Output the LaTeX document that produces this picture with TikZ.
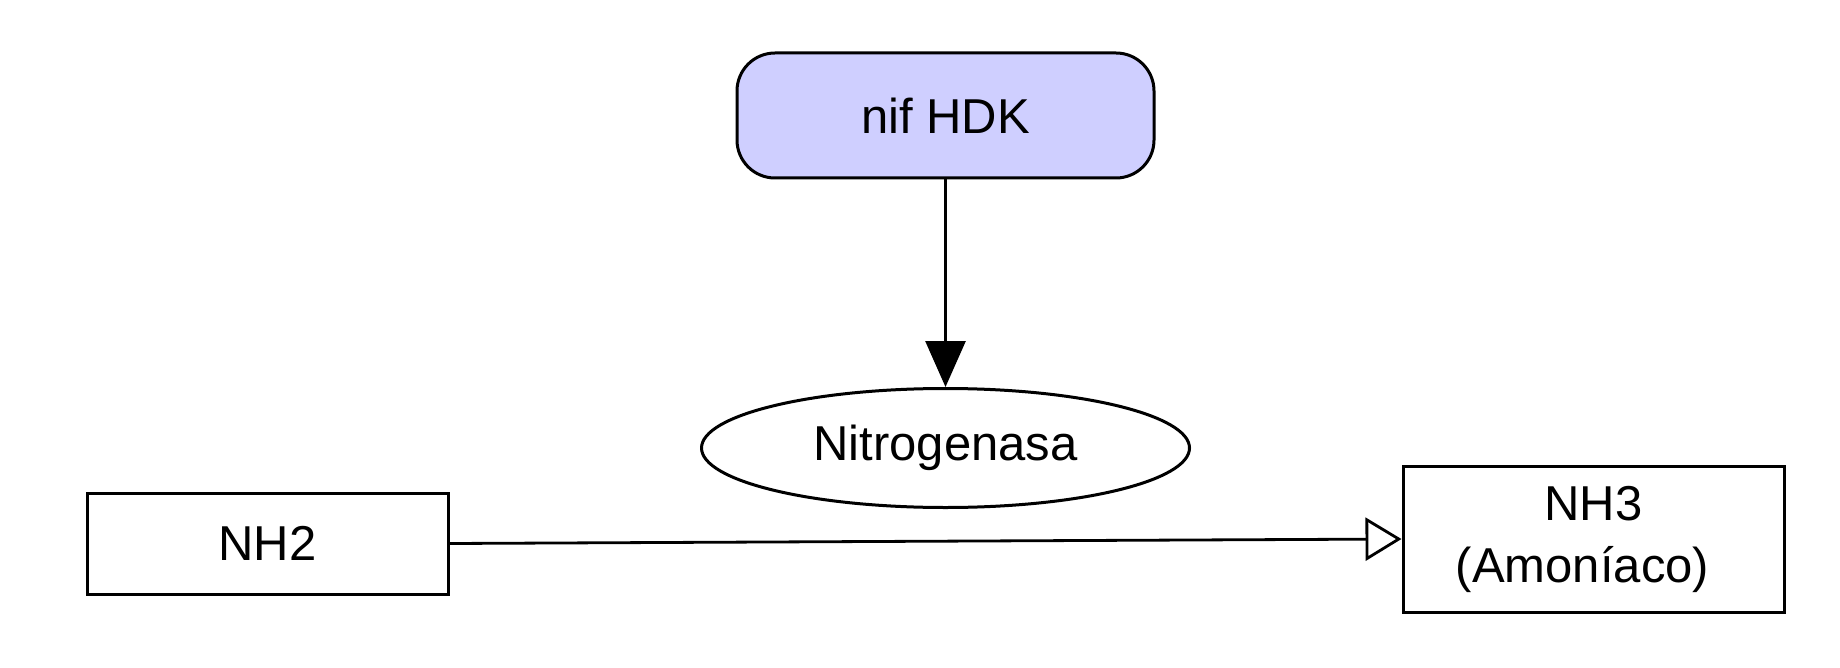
\documentclass[tikz,border=0pt]{standalone}
\usepackage{fontspec}
\setmainfont{Liberation Sans}
\usetikzlibrary{shapes.geometric,arrows.meta}
\definecolor{lav}{RGB}{207,207,255}
\begin{document}
\begin{tikzpicture}[x=0.5pt,y=-0.5pt,
  every node/.style={font=\fontsize{24.5pt}{31pt}\selectfont, inner sep=0pt, line width=1.5pt},
  gbox/.style={draw, rectangle},
  rbox/.style={draw, rectangle, rounded corners=19pt, fill=lav},
  oval/.style={draw, ellipse},
  conn/.style={line width=1.4pt}]
\useasboundingbox (0,0) rectangle (1840,668);
\node[rbox, minimum width=208.5pt, minimum height=62.5pt] (hdk) at (945.5,115.5) {nif HDK};
\node[oval, minimum width=244pt, minimum height=59.5pt] (nitro) at (945.5,448) {Nitrogenasa};
\node[gbox, minimum width=180.5pt, minimum height=50.5pt] (nh2) at (267.5,543.5) {NH2};
\node[gbox, minimum width=190.5pt, minimum height=73pt, align=center] (nh3) at (1593.5,539) {NH3\\(Amoníaco)\hspace*{0.45em}};
\draw[conn, -{Triangle[length=23pt,width=20pt]}] (hdk.south) -- (nitro.north);
\draw[conn, -{Triangle[open,length=18pt,width=21.5pt,fill=white]}] (nh2.east) -- (nh3.west);
\end{tikzpicture}
\end{document}
